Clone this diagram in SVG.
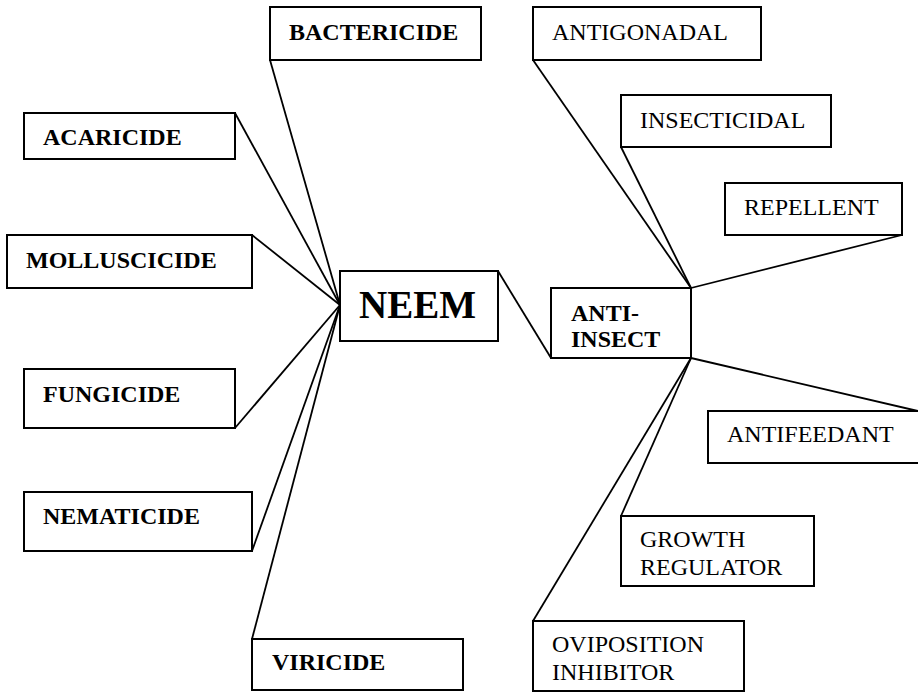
<svg xmlns="http://www.w3.org/2000/svg" width="918" height="692" viewBox="0 0 918 692">
<style>
.box{fill:#fff;stroke:#000;stroke-width:2}
.t{font-family:"Liberation Serif","Times New Roman",serif;font-size:24px;fill:#000}
.b{font-weight:bold}
.c line{stroke:#000;stroke-width:1.8}
</style>
<rect width="918" height="692" fill="#fff"/>
<g class="c" id="connectors">
<line x1="340" y1="305" x2="270" y2="60"/>
<line x1="340" y1="305" x2="235" y2="113"/>
<line x1="340" y1="305" x2="252" y2="235"/>
<line x1="340" y1="305" x2="235" y2="428"/>
<line x1="340" y1="305" x2="252" y2="551"/>
<line x1="340" y1="305" x2="252" y2="639"/>
<line x1="498" y1="271" x2="551" y2="358"/>
<line x1="691" y1="288" x2="533" y2="60"/>
<line x1="691" y1="288" x2="621" y2="147"/>
<line x1="691" y1="288" x2="902" y2="235"/>
<line x1="691" y1="358" x2="918" y2="411"/>
<line x1="691" y1="358" x2="621" y2="516"/>
<line x1="691" y1="358" x2="533" y2="621"/>
</g>
<g id="bactericide"><rect class="box" x="270" y="7" width="211" height="53"/><text class="t b" x="289" y="40">BACTERICIDE</text></g>
<g id="acaricide"><rect class="box" x="24" y="113" width="211" height="46"/><text class="t b" x="43" y="145">ACARICIDE</text></g>
<g id="molluscicide"><rect class="box" x="7" y="235" width="245" height="53"/><text class="t b" x="26" y="268">MOLLUSCICIDE</text></g>
<g id="fungicide"><rect class="box" x="24" y="369" width="211" height="59"/><text class="t b" x="43" y="402">FUNGICIDE</text></g>
<g id="nematicide"><rect class="box" x="24" y="492" width="228" height="59"/><text class="t b" x="43" y="524">NEMATICIDE</text></g>
<g id="viricide"><rect class="box" x="252" y="639" width="211" height="51"/><text class="t b" x="272" y="670">VIRICIDE</text></g>
<g id="neem"><rect class="box" x="340" y="271" width="158" height="70"/><text class="t b" x="359" y="318" style="font-size:39px">NEEM</text></g>
<g id="anti-insect"><rect class="box" x="551" y="288" width="140" height="70"/><text class="t b" x="571" y="321">ANTI-</text><text class="t b" x="571" y="347">INSECT</text></g>
<g id="antigonadal"><rect class="box" x="533" y="7" width="228" height="53"/><text class="t" x="552" y="40">ANTIGONADAL</text></g>
<g id="insecticidal"><rect class="box" x="621" y="95" width="210" height="52"/><text class="t" x="640" y="128">INSECTICIDAL</text></g>
<g id="repellent"><rect class="box" x="725" y="183" width="177" height="52"/><text class="t" x="744" y="215">REPELLENT</text></g>
<g id="antifeedant"><rect class="box" x="708" y="411" width="212" height="52"/><text class="t" x="727" y="442">ANTIFEEDANT</text></g>
<g id="growth-regulator"><rect class="box" x="621" y="516" width="193" height="70"/><text class="t" x="640" y="547">GROWTH</text><text class="t" x="640" y="575">REGULATOR</text></g>
<g id="oviposition-inhibitor"><rect class="box" x="533" y="621" width="211" height="70"/><text class="t" x="552" y="652">OVIPOSITION</text><text class="t" x="552" y="680">INHIBITOR</text></g>
</svg>
